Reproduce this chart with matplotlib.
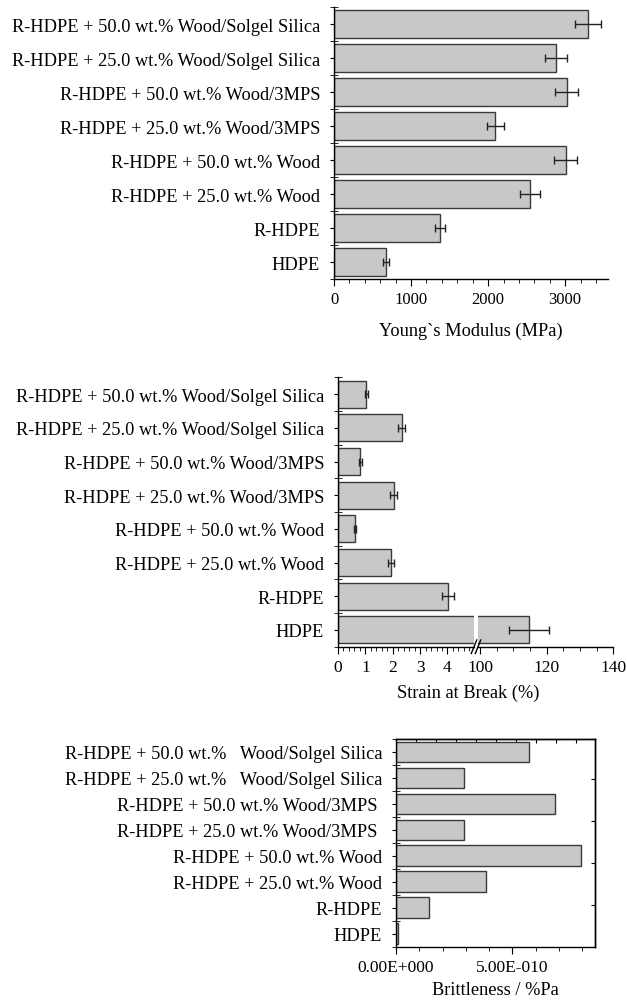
import numpy as np
import matplotlib
matplotlib.use('Agg')
import matplotlib.pyplot as plt
from matplotlib.ticker import MultipleLocator, FixedLocator


plt.rcParams['font.family'] = 'Liberation Serif'
plt.rcParams['font.size'] = 13.2
plt.rcParams['axes.linewidth'] = 1.0


samples = ['R-HDPE + 50.0 wt.% Wood/Solgel Silica',
           'R-HDPE + 25.0 wt.% Wood/Solgel Silica',
           'R-HDPE + 50.0 wt.% Wood/3MPS',
           'R-HDPE + 25.0 wt.% Wood/3MPS',
           'R-HDPE + 50.0 wt.% Wood',
           'R-HDPE + 25.0 wt.% Wood',
           'R-HDPE',
           'HDPE']
samples_b = ['R-HDPE + 50.0 wt.%   Wood/Solgel Silica',
             'R-HDPE + 25.0 wt.%   Wood/Solgel Silica',
             'R-HDPE + 50.0 wt.% Wood/3MPS ',
             'R-HDPE + 25.0 wt.% Wood/3MPS ',
             'R-HDPE + 50.0 wt.% Wood',
             'R-HDPE + 25.0 wt.% Wood',
             'R-HDPE',
             'HDPE']

modulus = [3300, 2880, 3020, 2095, 3005, 2540, 1370, 680]
modulus_err = [170, 145, 150, 110, 150, 130, 65, 40]

strain = [1.03, 2.33, 0.82, 2.03, 0.62, 1.93, 4.03, 114.7]
strain_err = [0.06, 0.12, 0.05, 0.12, 0.05, 0.10, 0.22, 5.9]

brittle = [5.73e-10, 2.94e-10, 6.85e-10, 2.92e-10, 7.94e-10, 3.87e-10, 1.43e-10, 0.1e-10]


ypos = np.arange(len(samples))[::-1]
bar_kw = dict(height=0.8, color='#c8c8c8', edgecolor='#3a3a3a', linewidth=1.0)
err_kw = dict(fmt='none', ecolor='#222222', elinewidth=1.0, capsize=3, capthick=1.0)


def cat_axis(ax, labels):
    ax.set_ylim(-0.5, 7.5)
    ax.set_yticks(ypos)
    ax.set_yticklabels(labels)
    ax.yaxis.set_minor_locator(FixedLocator(np.arange(-0.5, 8.0, 1.0)))
    ax.tick_params(axis='y', which='major', direction='out', length=3, pad=7)
    ax.tick_params(axis='y', which='minor', direction='inout', length=6)


fig = plt.figure(figsize=(6.27, 10.03), dpi=100)

##################################################################
# Young's modulus
ax1 = fig.add_axes([0.5327, 0.7208, 0.4375, 0.2712])
ax1.barh(ypos, modulus, **bar_kw)
ax1.errorbar(modulus, ypos, xerr=modulus_err, **err_kw)
cat_axis(ax1, samples)
ax1.set_xlim(0, 3560)
ax1.xaxis.set_major_locator(MultipleLocator(1000))
ax1.xaxis.set_minor_locator(MultipleLocator(200))
ax1.tick_params(axis='x', which='major', direction='out', length=5, labelsize=12)
ax1.tick_params(axis='x', which='minor', direction='out', length=3)
ax1.spines['top'].set_visible(False)
ax1.spines['right'].set_visible(False)
ax1.set_xlabel('Young`s Modulus (MPa)', labelpad=11)

##################################################################
# strain at break, broken x axis
ax2a = fig.add_axes([0.5391, 0.3542, 0.2169, 0.2686])
ax2b = fig.add_axes([0.7624, 0.3542, 0.2158, 0.2686], sharey=ax2a)
for ax in (ax2a, ax2b):
    ax.barh(ypos, strain, **bar_kw)
    ax.errorbar(strain, ypos, xerr=strain_err, **err_kw)
    ax.spines['top'].set_visible(False)
    ax.spines['right'].set_visible(False)
    ax.tick_params(axis='x', which='major', direction='out', length=5, labelsize=12.5)
    ax.tick_params(axis='x', which='minor', direction='out', length=3)
cat_axis(ax2a, samples)
ax2a.set_xlim(0, 4.97)
ax2a.xaxis.set_major_locator(MultipleLocator(1))
ax2a.xaxis.set_minor_locator(MultipleLocator(0.2))
ax2b.set_xlim(99.4, 140)
ax2b.xaxis.set_major_locator(FixedLocator([100, 120, 140]))
ax2b.xaxis.set_minor_locator(MultipleLocator(5))
ax2b.spines['left'].set_visible(False)
ax2b.tick_params(axis='y', which='both', left=False, labelleft=False)

# break marks on the x axis
d = 0.02
for ax, x0 in ((ax2a, 1.0), (ax2b, 0.0)):
    ax.plot([x0 - d, x0 + d], [-0.025, 0.025], transform=ax.transAxes,
            color='black', lw=1.0, clip_on=False)
fig.text(0.747, 0.309, 'Strain at Break (%)', ha='center', va='center')

##################################################################
# brittleness
ax3 = fig.add_axes([0.6316, 0.0551, 0.3174, 0.2071])
ax3.barh(ypos, brittle, **bar_kw)
cat_axis(ax3, samples_b)
ax3.set_xlim(0, 8.55e-10)
ax3.set_xticks([0, 5e-10])
ax3.set_xticklabels(['0.00E+000', '5.00E-010'])
ax3.xaxis.set_minor_locator(MultipleLocator(1e-10))
ax3.tick_params(axis='x', which='major', direction='out', length=5, labelsize=12.5)
ax3.tick_params(axis='x', which='minor', direction='out', length=3)
top = ax3.secondary_xaxis('top')
top.set_xticks(np.arange(1, 10) * 0.86e-10, labels=[])
top.tick_params(direction='in', length=3)
right = ax3.secondary_yaxis('right')
right.set_yticks(np.linspace(1.1, 5.95, 4), labels=[])
right.tick_params(direction='in', length=3)
ax3.set_xlabel('Brittleness / %Pa', labelpad=5)

plt.savefig('out.png', dpi=100)
